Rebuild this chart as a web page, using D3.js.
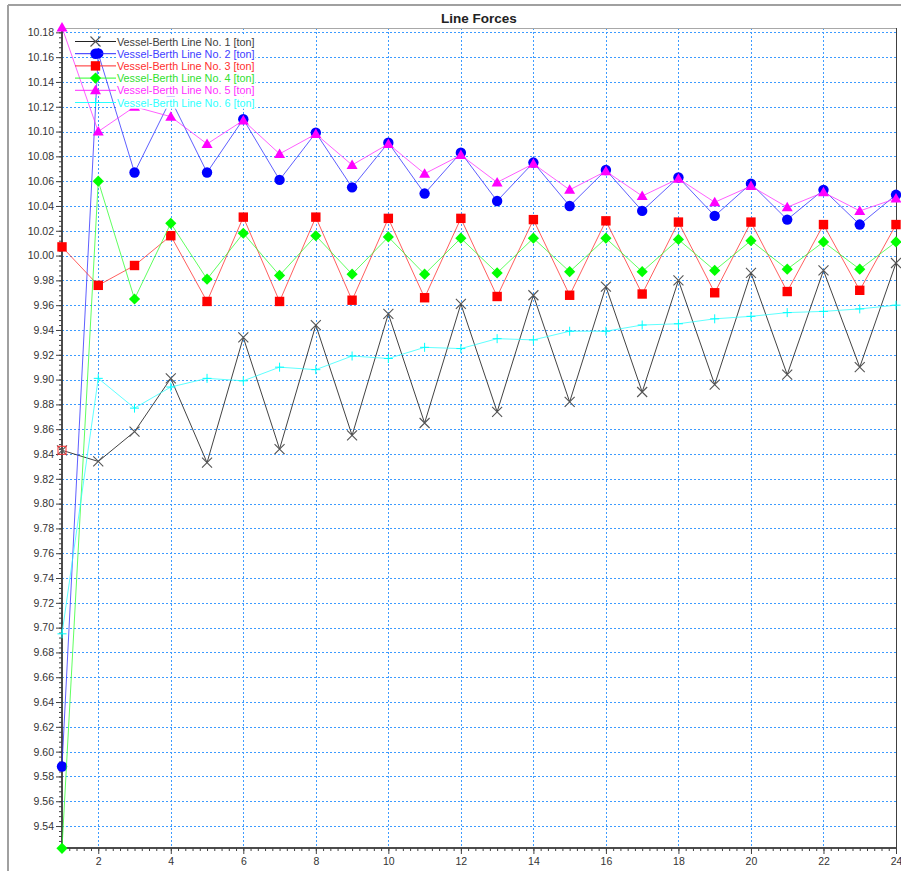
<!DOCTYPE html>
<html>
<head>
<meta charset="utf-8">
<script src="https://cdn.jsdelivr.net/npm/d3@7"></script>
<style>
  html, body { margin: 0; padding: 0; background: #ffffff; }
  svg { display: block; font-family: "Liberation Sans", Arial, sans-serif; }
</style>
</head>
<body>
<svg id="chart" width="901" height="871"></svg>
<script>
// ---------- data ----------
const xValues = [1,2,3,4,5,6,7,8,9,10,11,12,13,14,15,16,17,18,19,20,21,22,23,24];

const line1 = [9.843,9.834,9.858,9.901,9.833,9.934,9.844,9.944,9.855,9.953,9.865,9.961,9.874,9.968,9.882,9.975,9.890,9.980,9.896,9.986,9.904,9.988,9.910,9.994];
const line2 = [9.588,10.163,10.067,10.126,10.067,10.110,10.061,10.099,10.055,10.091,10.050,10.083,10.044,10.075,10.040,10.069,10.036,10.063,10.032,10.058,10.029,10.053,10.025,10.049];
const line3 = [10.007,9.976,9.992,10.016,9.963,10.031,9.963,10.031,9.964,10.030,9.966,10.030,9.967,10.029,9.968,10.028,9.969,10.027,9.970,10.027,9.971,10.025,9.972,10.025];
const line4 = [9.522,10.060,9.965,10.026,9.981,10.018,9.984,10.016,9.985,10.015,9.985,10.014,9.986,10.014,9.987,10.014,9.987,10.013,9.988,10.012,9.989,10.011,9.989,10.011];
const line5 = [10.184,10.100,10.120,10.112,10.090,10.109,10.082,10.098,10.073,10.090,10.066,10.081,10.059,10.074,10.053,10.068,10.048,10.062,10.043,10.056,10.039,10.051,10.036,10.046];
const line6 = [9.695,9.901,9.877,9.894,9.901,9.899,9.910,9.908,9.919,9.917,9.926,9.925,9.933,9.932,9.939,9.939,9.944,9.945,9.949,9.951,9.954,9.955,9.957,9.960];

const seriesNames = [
  "Vessel-Berth Line No. 1 [ton]",
  "Vessel-Berth Line No. 2 [ton]",
  "Vessel-Berth Line No. 3 [ton]",
  "Vessel-Berth Line No. 4 [ton]",
  "Vessel-Berth Line No. 5 [ton]",
  "Vessel-Berth Line No. 6 [ton]"
];
const seriesValues = [line1, line2, line3, line4, line5, line6];

const xTickValues = [2,4,6,8,10,12,14,16,18,20,22,24];
const yTickValues = [9.54,9.56,9.58,9.60,9.62,9.64,9.66,9.68,9.70,9.72,9.74,9.76,9.78,9.80,9.82,9.84,9.86,9.88,9.90,9.92,9.94,9.96,9.98,10.00,10.02,10.04,10.06,10.08,10.10,10.12,10.14,10.16,10.18];

const chartTitle = "Line Forces";

// ---------- styling ----------
const lineColors   = ["#222222", "#2a2aff", "#ff2a2a", "#2aff2a", "#ff2aff", "#2affff"];
const markerColors = ["#555555", "#0000ff", "#ff0000", "#00ff00", "#ff00ff", "#00ffff"];
const textColors   = ["#404040", "#4040ff", "#ff3030", "#30e030", "#ff30ff", "#30ffff"];
const markerTypes  = ["x", "circle", "square", "diamond", "triangle", "plus"];

const svg = d3.select("#chart");
const pLeft = 62, pRight = 896, pTop = 28, pBottom = 848;

const x = d3.scaleLinear().domain([1, 24]).range([pLeft, pRight]);
const y = d3.scaleLinear().domain([9.5223, 10.1835]).range([pBottom, pTop]);

// outer frame
svg.append("line").attr("x1", 8).attr("x2", 901).attr("y1", 5).attr("y2", 5)
  .attr("stroke", "#a0a0a0").attr("stroke-width", 2);
svg.append("line").attr("x1", 8).attr("x2", 8).attr("y1", 5).attr("y2", 871)
  .attr("stroke", "#a0a0a0").attr("stroke-width", 2);

// title
svg.append("text").attr("x", (pLeft + pRight) / 2).attr("y", 23)
  .attr("text-anchor", "middle").attr("font-size", 13.5).attr("font-weight", "bold")
  .attr("fill", "#222").text(chartTitle);

// grid
const grid = svg.append("g").attr("stroke", "#3d9bff").attr("stroke-width", 1)
  .attr("stroke-dasharray", "2,2").attr("shape-rendering", "crispEdges");
grid.selectAll("line.h").data(yTickValues).join("line").attr("class", "h")
  .attr("x1", pLeft).attr("x2", pRight)
  .attr("y1", d => Math.round(y(d)) + 0.5).attr("y2", d => Math.round(y(d)) + 0.5);
grid.selectAll("line.v").data(xTickValues).join("line").attr("class", "v")
  .attr("y1", pTop).attr("y2", pBottom)
  .attr("x1", d => Math.round(x(d)) + 0.5).attr("x2", d => Math.round(x(d)) + 0.5);

// plot border top / right
svg.append("line").attr("x1", pLeft).attr("x2", pRight).attr("y1", pTop + 0.5).attr("y2", pTop + 0.5)
  .attr("stroke", "#a8a8a8").attr("stroke-width", 1);
svg.append("line").attr("x1", pRight + 0.5).attr("x2", pRight + 0.5).attr("y1", pTop).attr("y2", pBottom)
  .attr("stroke", "#404040").attr("stroke-width", 1);

// axes
const yMinor = d3.range(0, 166).map(i => +(9.524 + i * 0.004).toFixed(3)).filter(v => v <= 10.1835);
const xMinor = d3.range(0, 116).map(i => +(1 + i * 0.2).toFixed(1)).filter(v => v <= 24);

const yAxisMinor = svg.append("g").attr("transform", `translate(${pLeft},0)`)
  .call(d3.axisLeft(y).tickValues(yMinor).tickSize(3).tickFormat(""));
const yAxis = svg.append("g").attr("transform", `translate(${pLeft},0)`)
  .call(d3.axisLeft(y).tickValues(yTickValues).tickSize(6).tickPadding(2).tickFormat(d3.format(".2f")));
const xAxisMinor = svg.append("g").attr("transform", `translate(0,${pBottom})`)
  .call(d3.axisBottom(x).tickValues(xMinor).tickSize(3).tickFormat(""));
const xAxis = svg.append("g").attr("transform", `translate(0,${pBottom})`)
  .call(d3.axisBottom(x).tickValues(xTickValues).tickSize(6).tickPadding(4).tickFormat(d3.format("d")));

[yAxisMinor, yAxis, xAxisMinor, xAxis].forEach(g => {
  g.selectAll("path.domain").attr("stroke", "#404040").attr("stroke-width", 1.5);
  g.selectAll(".tick line").attr("stroke", "#404040");
  g.selectAll("text").attr("font-size", 10.5).attr("fill", "#333")
    .attr("font-family", "Liberation Sans, Arial, sans-serif");
});
yAxisMinor.select("path.domain").attr("d", `M0,${pTop}V${pBottom}`);
xAxisMinor.select("path.domain").attr("d", `M${pLeft},0H${pRight}`);
yAxis.select("path.domain").attr("d", `M0,${pTop}V${pBottom}`);
xAxis.select("path.domain").attr("d", `M${pLeft},0H${pRight}`);

// marker drawing
function drawMarker(g, type, cx, cy, color) {
  if (type === "x") {
    const s = 5;
    g.append("path").attr("d", `M${cx - s},${cy - s}L${cx + s},${cy + s}M${cx - s},${cy + s}L${cx + s},${cy - s}`)
      .attr("stroke", color).attr("stroke-width", 1.1).attr("fill", "none");
  } else if (type === "circle") {
    g.append("circle").attr("cx", cx).attr("cy", cy).attr("r", 5.2).attr("fill", color);
  } else if (type === "square") {
    g.append("rect").attr("x", cx - 4.7).attr("y", cy - 4.7).attr("width", 9.4).attr("height", 9.4).attr("fill", color);
  } else if (type === "diamond") {
    const s = 5.6;
    g.append("path").attr("d", `M${cx},${cy - s}L${cx + s},${cy}L${cx},${cy + s}L${cx - s},${cy}Z`).attr("fill", color);
  } else if (type === "triangle") {
    g.append("path").attr("d", `M${cx},${cy - 5.5}L${cx + 5.5},${cy + 4}L${cx - 5.5},${cy + 4}Z`).attr("fill", color);
  } else if (type === "plus") {
    const s = 4.5;
    g.append("path").attr("d", `M${cx - s},${cy}L${cx + s},${cy}M${cx},${cy - s}L${cx},${cy + s}`)
      .attr("stroke", color).attr("stroke-width", 1).attr("fill", "none");
  }
}

// series
const lineGen = d3.line().x((d, i) => x(xValues[i])).y(d => y(d));
seriesValues.forEach((vals, si) => {
  const g = svg.append("g");
  g.append("path").datum(vals).attr("d", lineGen)
    .attr("fill", "none").attr("stroke", lineColors[si]).attr("stroke-width", 1)
    .attr("stroke-opacity", si === 0 ? 0.85 : 0.75);
  vals.forEach((v, i) => drawMarker(g, markerTypes[si], x(xValues[i]), y(v), markerColors[si]));
});

// selection box around first point of series 1
svg.append("rect").attr("x", x(xValues[0]) - 4).attr("y", y(line1[0]) - 4)
  .attr("width", 8).attr("height", 8).attr("fill", "none").attr("stroke", "#ff3030").attr("stroke-width", 1);

// legend
const legend = svg.append("g");
const legendRows = [];
seriesNames.forEach((name, i) => {
  const ly = 41.5 + i * 12.2;
  legendRows.push(ly);
});
// white backing behind the legend texts
const legendTextBg = legend.append("g");
seriesNames.forEach((name, i) => {
  const ly = legendRows[i];
  legend.append("line").attr("x1", 75).attr("x2", 116).attr("y1", ly).attr("y2", ly)
    .attr("stroke", lineColors[i]).attr("stroke-width", 1);
  drawMarker(legend, markerTypes[i], 95.5, ly, markerColors[i]);
  const t = legend.append("text").attr("x", 117).attr("y", ly + 4).attr("font-size", 10.8)
    .attr("fill", textColors[i]).text(name);
  const w = t.node().getComputedTextLength();
  legendTextBg.append("rect").attr("x", 117).attr("y", ly - 6.1).attr("width", w + 1).attr("height", 12.3)
    .attr("fill", "#ffffff");
});
</script>
</body>
</html>
